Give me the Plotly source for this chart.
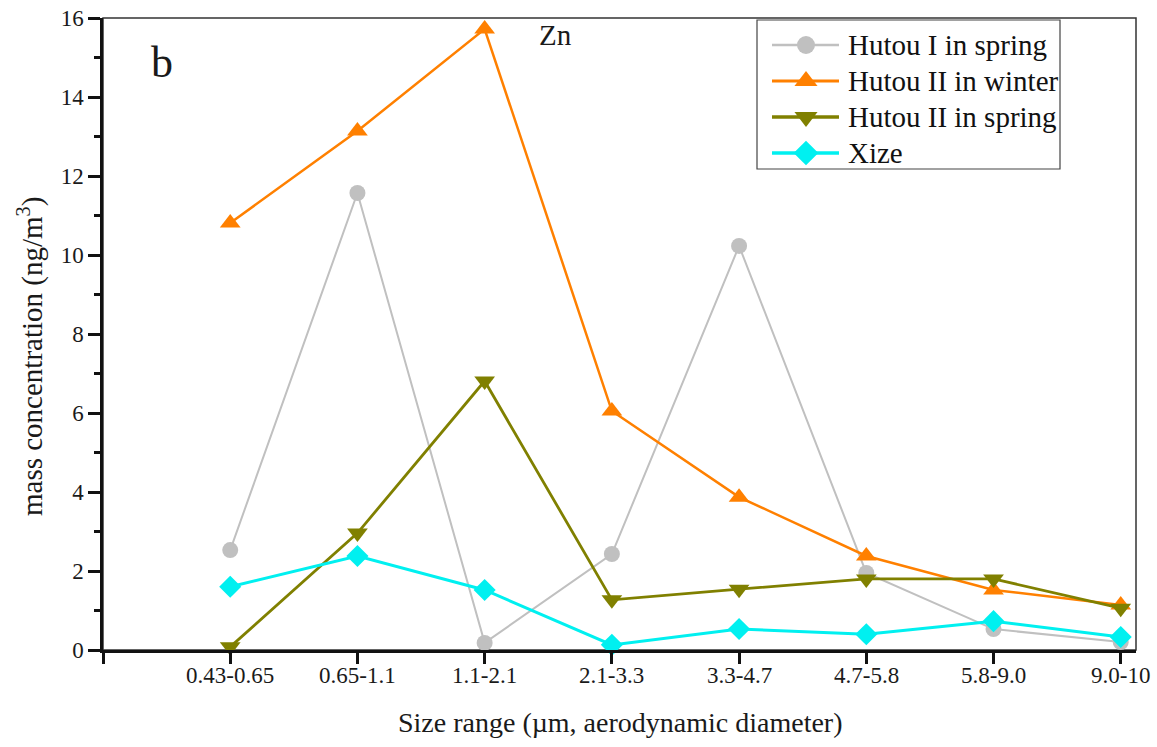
import plotly.graph_objects as go

categories = ["0.43-0.65", "0.65-1.1", "1.1-2.1", "2.1-3.3", "3.3-4.7", "4.7-5.8", "5.8-9.0", "9.0-10"]
hutou1_spring = [2.53, 11.57, 0.18, 2.43, 10.23, 1.95, 0.53, 0.20]
hutou2_winter = [10.81, 13.14, 15.72, 6.05, 3.87, 2.38, 1.52, 1.14]
hutou2_spring = [0.08, 2.96, 6.81, 1.27, 1.54, 1.80, 1.80, 1.06]
xize = [1.60, 2.38, 1.52, 0.13, 0.53, 0.40, 0.73, 0.33]
y_ticks = [0, 2, 4, 6, 8, 10, 12, 14, 16]
y_minor = [1, 3, 5, 7, 9, 11, 13, 15]

series = [
    ("Hutou I in spring", hutou1_spring, "#C0C0C0", "circle", 16, 2),
    ("Hutou II in winter", hutou2_winter, "#FF8000", "triangle-up", 18, 2.5),
    ("Hutou II in spring", hutou2_spring, "#808000", "triangle-down", 18, 2.8),
    ("Xize", xize, "#00F0F0", "diamond", 17, 3),
]

xpos = list(range(len(categories)))
X_RANGE = [-1, 7.12]
Y_RANGE = [0, 16]
FONT = "'Liberation Serif', 'Times New Roman', serif"
TXT = "#1a1a1a"

# plot-area pixel geometry (for converting the legend/label positions)
L, R, T, B = 103, 1136, 18, 650
W, H = 1157, 747
def px_x(p):
    return (p - L) / (R - L)
def px_y(p):
    return (B - p) / (B - T)

fig = go.Figure()
for name, vals, color, sym, size, lw in series:
    fig.add_trace(go.Scatter(
        x=xpos, y=vals, name=name, mode="lines+markers",
        line=dict(color=color, width=lw),
        marker=dict(symbol=sym, size=size, color=color, opacity=1),
        cliponaxis=False, showlegend=False,
    ))

# ---- manual legend (box, lines, markers, labels) ----
leg_rows_px = [45, 81, 117, 153]
leg_line_x0, leg_line_x1, leg_mark_x, leg_text_x = 772, 839, 806, 846
fig.add_shape(type="rect", xref="paper", yref="paper",
              x0=px_x(757), x1=px_x(1060), y0=px_y(169), y1=px_y(20),
              line=dict(color="#444444", width=1.2), fillcolor="white", layer="below")
for (name, vals, color, sym, size, lw), ypx in zip(series, leg_rows_px):
    fig.add_shape(type="line", xref="paper", yref="paper",
                  x0=px_x(leg_line_x0), x1=px_x(leg_line_x1), y0=px_y(ypx), y1=px_y(ypx),
                  line=dict(color=color, width=lw + 0.5), layer="below")
    fig.add_annotation(text=name, xref="paper", yref="paper",
                       x=px_x(leg_text_x), y=px_y(ypx), xanchor="left", yanchor="middle",
                       showarrow=False, font=dict(family=FONT, size=29, color="#111111"))
    # legend sample marker, placed in the main axes
    fig.add_trace(go.Scatter(
        x=[X_RANGE[0] + px_x(leg_mark_x) * (X_RANGE[1] - X_RANGE[0])],
        y=[Y_RANGE[0] + px_y(ypx) * (Y_RANGE[1] - Y_RANGE[0])],
        mode="markers", showlegend=False, hoverinfo="skip",
        marker=dict(symbol=sym, size=size + 2, color=color, opacity=1),
        cliponaxis=False,
    ))

fig.update_layout(
    width=W, height=H,
    margin=dict(l=L, r=W - R, t=T, b=H - B, autoexpand=False),
    paper_bgcolor="white", plot_bgcolor="white",
    font=dict(family=FONT, color=TXT),
    showlegend=False,
    xaxis=dict(
        range=X_RANGE,
        tickmode="array",
        tickvals=[-1] + xpos,
        showticklabels=False,
        ticks="outside", ticklen=11, tickwidth=2.5, tickcolor="#111111",
        showline=True, linecolor="#111111", linewidth=2.5,
        showgrid=False, zeroline=False, automargin=False,
    ),
    yaxis=dict(
        range=Y_RANGE,
        tickmode="array", tickvals=y_ticks,
        ticks="outside", ticklen=12, tickwidth=2.5, tickcolor="#111111",
        minor=dict(tickvals=y_minor, ticks="outside",
                   ticklen=6, tickwidth=2.5, tickcolor="#111111"),
        showline=True, linecolor="#111111", linewidth=2.5,
        showgrid=False, zeroline=False, automargin=False,
        tickfont=dict(family=FONT, size=23, color=TXT),
    ),
)

# x category labels (placed at the category positions on the x scale)
for xp, cat in zip(xpos, categories):
    fig.add_annotation(text=cat, xref="x", yref="paper", x=xp, y=px_y(675),
                       xanchor="center", yanchor="middle", showarrow=False,
                       font=dict(family=FONT, size=23, color=TXT))

# thin top/right frame
fig.add_shape(type="rect", xref="paper", yref="paper", x0=0, y0=0, x1=1, y1=1,
              line=dict(color="#333333", width=1.5), layer="below")

# axis titles
fig.add_annotation(text="Size range (µm, aerodynamic diameter)", xref="paper", yref="paper",
                   x=px_x(620), y=px_y(722), xanchor="center", yanchor="middle",
                   showarrow=False, font=dict(family=FONT, size=28, color=TXT))
fig.add_annotation(text="mass concentration (ng/m<sup>3</sup>)", xref="paper", yref="paper",
                   x=px_x(30), y=px_y(357), xanchor="center", yanchor="middle", textangle=-90,
                   showarrow=False, font=dict(family=FONT, size=29, color=TXT))

fig.add_annotation(text="b", xref="paper", yref="paper", x=px_x(162), y=px_y(62),
                   xanchor="center", yanchor="middle",
                   showarrow=False, font=dict(family=FONT, size=44, color=TXT))
fig.add_annotation(text="Zn", xref="paper", yref="paper", x=px_x(555), y=px_y(35),
                   xanchor="center", yanchor="middle",
                   showarrow=False, font=dict(family=FONT, size=29, color=TXT))

fig.write_html("out.html")
